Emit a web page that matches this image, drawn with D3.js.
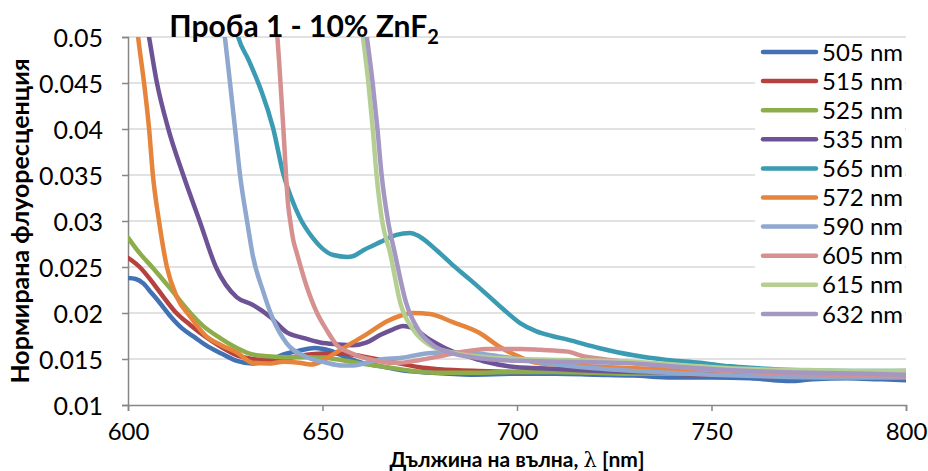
<!DOCTYPE html>
<html>
<head>
<meta charset="utf-8">
<script src="https://cdn.jsdelivr.net/npm/d3@7/dist/d3.min.js"></script>
<style>
  html, body { margin: 0; padding: 0; background: #fff; }
  svg { display: block; font-family: Lato, "Open Sans", sans-serif; }
</style>
</head>
<body>
<svg id="chart" width="928" height="471"></svg>
<script>
// Normalised fluorescence spectra, sample 1 (10% ZnF2), one array per excitation wavelength.
// Each entry: [emission wavelength in nm, normalised fluorescence]
const s505 = [[600,0.0238],[602,0.0237],[604,0.0232],[606,0.0222],[608,0.0212],[611,0.0196],[614,0.0183],[617,0.0174],[620,0.0165],[624,0.0156],[628,0.0148],[632,0.0145],[636,0.0148],[640,0.0155],[644,0.0159],[648,0.0162],[652,0.0159],[656,0.0152],[660,0.0146],[665,0.0142],[670,0.0138],[678,0.0135],[688,0.0133],[700,0.0134],[710,0.0134],[720,0.0133],[730,0.0132],[740,0.0130],[750,0.0130],[760,0.0129],[766,0.0127],[771,0.0126],[776,0.0128],[785,0.0129],[793,0.0128],[800,0.0127]];
const s515 = [[600,0.0260],[603,0.0250],[606,0.0235],[609,0.0218],[612,0.0202],[616,0.0187],[620,0.0174],[624,0.0163],[628,0.0154],[632,0.0150],[636,0.0149],[640,0.0150],[645,0.0154],[650,0.0156],[655,0.0156],[660,0.0153],[665,0.0149],[670,0.0145],[675,0.0141],[680,0.0139],[690,0.0137],[700,0.0136],[710,0.0137],[720,0.0136],[730,0.0135],[740,0.0134],[750,0.0133],[760,0.0132],[770,0.0131],[780,0.0131],[790,0.0132],[800,0.0131]];
const s525 = [[600,0.0282],[603,0.0265],[606.4,0.0249],[610.8,0.0227],[615,0.0205],[619.3,0.0186],[623.6,0.0173],[628,0.0162],[632,0.0155],[636,0.0153],[641,0.0152],[646,0.0152],[651,0.0151],[656,0.0148],[660,0.0145],[665,0.0142],[670,0.0139],[675,0.0136],[680,0.0135],[690,0.0135],[700,0.0136],[710,0.0136],[720,0.0135],[730,0.0134],[740,0.0134],[750,0.0134],[760,0.0133],[770,0.0133],[780,0.0134],[790,0.0134],[800,0.0134]];
const s535 = [[600,0.063],[603,0.0555],[605.4,0.0500],[607.4,0.0451],[610.3,0.0401],[614.2,0.0350],[618.5,0.0299],[622.6,0.0250],[628,0.0217],[632,0.0209],[636.5,0.0196],[640.8,0.0179],[645,0.0173],[649.4,0.0168],[653.7,0.0166],[657.8,0.0165],[661.4,0.0168],[664.8,0.0176],[668,0.0182],[670.7,0.0186],[673,0.0184],[677.6,0.0171],[683.5,0.0158],[688,0.0152],[692,0.0147],[700,0.0141],[706,0.0140],[715,0.0138],[730,0.0136],[745,0.0135],[760,0.0134],[780,0.0133],[800,0.0133]];
const s565 = [[620,0.075],[625,0.057],[628.3,0.0500],[631,0.0475],[633.4,0.0451],[634.4,0.0440],[637.3,0.0401],[640,0.0350],[642,0.0325],[644,0.0305],[647.6,0.0281],[650,0.0270],[652.8,0.0263],[656.3,0.0261],[658,0.0262],[660.4,0.0268],[664.8,0.0277],[669,0.0285],[672.5,0.0287],[675,0.0283],[679.4,0.0268],[683.5,0.0252],[688,0.0236],[692.3,0.0220],[696.5,0.0204],[700.8,0.0189],[705,0.0180],[709,0.0175],[713,0.0171],[721,0.0162],[730,0.0154],[738.6,0.0149],[747,0.0146],[754.8,0.0142],[762,0.0140],[770,0.0138],[786,0.0137],[800,0.0137]];
const s572 = [[600,0.062],[602.6,0.0500],[604.1,0.0451],[605.4,0.0401],[606.4,0.0350],[608,0.0299],[610,0.0250],[612.6,0.0217],[616,0.0196],[620.3,0.0174],[624,0.0165],[628,0.0157],[632,0.0146],[636,0.0145],[640,0.0147],[644,0.0146],[647,0.0144],[650,0.0148],[652.7,0.0155],[657.8,0.0168],[661.4,0.0177],[666.6,0.0191],[670,0.0197],[673.3,0.0200],[677.6,0.0199],[683.5,0.0190],[690.5,0.0178],[695.6,0.0163],[700.8,0.0152],[705,0.0146],[715,0.0143],[730,0.0140],[745,0.0138],[760,0.0137],[780,0.0136],[800,0.0137]];
const s590 = [[615,0.080],[620,0.063],[624.9,0.0500],[626.2,0.0451],[627.5,0.0401],[628.8,0.0350],[630.6,0.0300],[632.1,0.0262],[634.7,0.0224],[637.3,0.0193],[640.8,0.0167],[646,0.0152],[651,0.0146],[655,0.0143],[658,0.0143],[661.4,0.0146],[666,0.0150],[670,0.0151],[675,0.0155],[680,0.0157],[686,0.0157],[692,0.0155],[700,0.0150],[710,0.0144],[720,0.0140],[735,0.0136],[750,0.0133],[765,0.0131],[780,0.0130],[800,0.0130]];
const s605 = [[630,0.075],[635,0.060],[638.4,0.0500],[639.8,0.0410],[641.2,0.0316],[641.7,0.0300],[642.5,0.0279],[643.4,0.0265],[646,0.0228],[648.6,0.0200],[651,0.0182],[653.7,0.0165],[657,0.0157],[660,0.0152],[663,0.0149],[667,0.0146],[670,0.0146],[675,0.0149],[679,0.0152],[683.5,0.0156],[688,0.0159],[692.3,0.0161],[697,0.0161],[701,0.0161],[706,0.0160],[713,0.0158],[717,0.0153],[722,0.0150],[730,0.0146],[740,0.0142],[750,0.0138],[760,0.0136],[770,0.0134],[780,0.0133],[790,0.0132],[800,0.0131]];
const s615 = [[650,0.085],[655,0.066],[660.4,0.0500],[661.8,0.0450],[662.9,0.0401],[663.9,0.0350],[665.3,0.0301],[667.4,0.0265],[670,0.0211],[673.3,0.0182],[677.6,0.0165],[683.5,0.0157],[692.3,0.0152],[700.8,0.0150],[713,0.0149],[730,0.0147],[747,0.0142],[760,0.0139],[775,0.0138],[790,0.0137],[800,0.0137]];
const s632 = [[650,0.082],[655,0.064],[661.4,0.0500],[662.9,0.0450],[664.1,0.0401],[665.2,0.0350],[666.8,0.0301],[668.6,0.0265],[671.5,0.0211],[674.6,0.0182],[678.4,0.0165],[683.5,0.0156],[692.3,0.0150],[700.8,0.0148],[713,0.0147],[730,0.0145],[747,0.0140],[760,0.0137],[775,0.0135],[790,0.0134],[800,0.0133]];

const seriesNames = ["505 nm","515 nm","525 nm","535 nm","565 nm","572 nm","590 nm","605 nm","615 nm","632 nm"];
const seriesData = [s505, s515, s525, s535, s565, s572, s590, s605, s615, s632];
const seriesColors = ["#4372b4","#b6423f","#8cad4a","#6d5395","#3a9bb2","#e5843a","#8fa8d0","#d69090","#b5cf92","#a498c2"];

const xTicks = [600, 650, 700, 750, 800];
const yTicks = [0.01, 0.015, 0.02, 0.025, 0.03, 0.035, 0.04, 0.045, 0.05];

const plot = { left: 128, right: 906, top: 37, bottom: 405 };

const svg = d3.select("#chart");
const x = d3.scaleLinear().domain([600, 800]).range([plot.left, plot.right]);
const y = d3.scaleLinear().domain([0.01, 0.05]).range([plot.bottom, plot.top]);

// horizontal gridlines
svg.append("g")
  .selectAll("line")
  .data(yTicks.filter(d => d > 0.01))
  .join("line")
  .attr("x1", plot.left).attr("x2", plot.right)
  .attr("y1", d => y(d)).attr("y2", d => y(d))
  .attr("stroke", "#d9d9d9").attr("stroke-width", 1.5);

// axes
const yAxis = d3.axisLeft(y).tickValues(yTicks).tickSize(6).tickPadding(19)
  .tickFormat(d => d3.format("")(+d.toFixed(3)));
const xAxis = d3.axisBottom(x).tickValues(xTicks).tickSize(6).tickPadding(12)
  .tickFormat(d3.format("d"));

const gy = svg.append("g").attr("transform", `translate(${plot.left},0)`).call(yAxis);
const gx = svg.append("g").attr("transform", `translate(0,${plot.bottom})`).call(xAxis);
[gx, gy].forEach(g => {
  g.select(".domain").attr("stroke", "#868686").attr("stroke-width", 1.5);
  g.selectAll(".tick line").attr("stroke", "#868686").attr("stroke-width", 1.5);
  g.selectAll(".tick text").attr("fill", "#000")
    .style("font-family", "Lato, 'Open Sans', sans-serif");
});
gy.selectAll(".tick text").style("font-size", "25px").attr("dy", "0.36em");
gx.selectAll(".tick text").style("font-size", "24px");

// clip region for the spectra
svg.append("clipPath").attr("id", "plot-clip")
  .append("rect")
  .attr("x", plot.left).attr("y", plot.top)
  .attr("width", plot.right - plot.left).attr("height", plot.bottom - plot.top);

const line = d3.line()
  .x(d => x(d[0])).y(d => y(d[1]))
  .curve(d3.curveMonotoneX);

svg.append("g").attr("clip-path", "url(#plot-clip)")
  .selectAll("path")
  .data(seriesData)
  .join("path")
  .attr("d", line)
  .attr("fill", "none")
  .attr("stroke", (d, i) => seriesColors[i])
  .attr("stroke-width", 4.5)
  .attr("stroke-linejoin", "round")
  .attr("stroke-linecap", "round");

// legend
const legend = svg.append("g");
legend.append("rect")
  .attr("x", 755).attr("y", 39).attr("width", 150).attr("height", 290)
  .attr("fill", "#fff");
const item = legend.selectAll("g.item")
  .data(seriesNames)
  .join("g").attr("class", "item")
  .attr("transform", (d, i) => `translate(0,${52 + i * 29.1})`);
item.append("line")
  .attr("x1", 763).attr("x2", 816).attr("y1", 0).attr("y2", 0)
  .attr("stroke", (d, i) => seriesColors[i])
  .attr("stroke-width", 4.5).attr("stroke-linecap", "round");
item.append("text")
  .attr("x", 822).attr("y", 0).attr("dy", "0.36em")
  .style("font-size", "24px")
  .text(d => d);

// chart title
const title = svg.append("text")
  .attr("x", 304).attr("y", 37)
  .attr("text-anchor", "middle")
  .style("font-size", "30px").style("font-weight", "bold");
title.append("tspan").text("Проба 1 - 10% ZnF");
title.append("tspan").attr("dy", 7).style("font-size", "20px").text("2");

// axis titles
const xt = svg.append("text")
  .attr("x", (plot.left + plot.right) / 2).attr("y", 467)
  .attr("text-anchor", "middle")
  .style("font-size", "21px").style("font-weight", "bold");
xt.append("tspan").text("Дължина на вълна, ");
xt.append("tspan").style("font-family", "'DejaVu Serif', serif").style("font-weight", "normal").text("λ");
xt.append("tspan").text(" [nm]");

svg.append("text")
  .attr("transform", `translate(29,${(plot.top + plot.bottom) / 2}) rotate(-90)`)
  .attr("text-anchor", "middle")
  .style("font-size", "25px").style("font-weight", "bold")
  .text("Нормирана флуоресценция");
</script>
</body>
</html>
